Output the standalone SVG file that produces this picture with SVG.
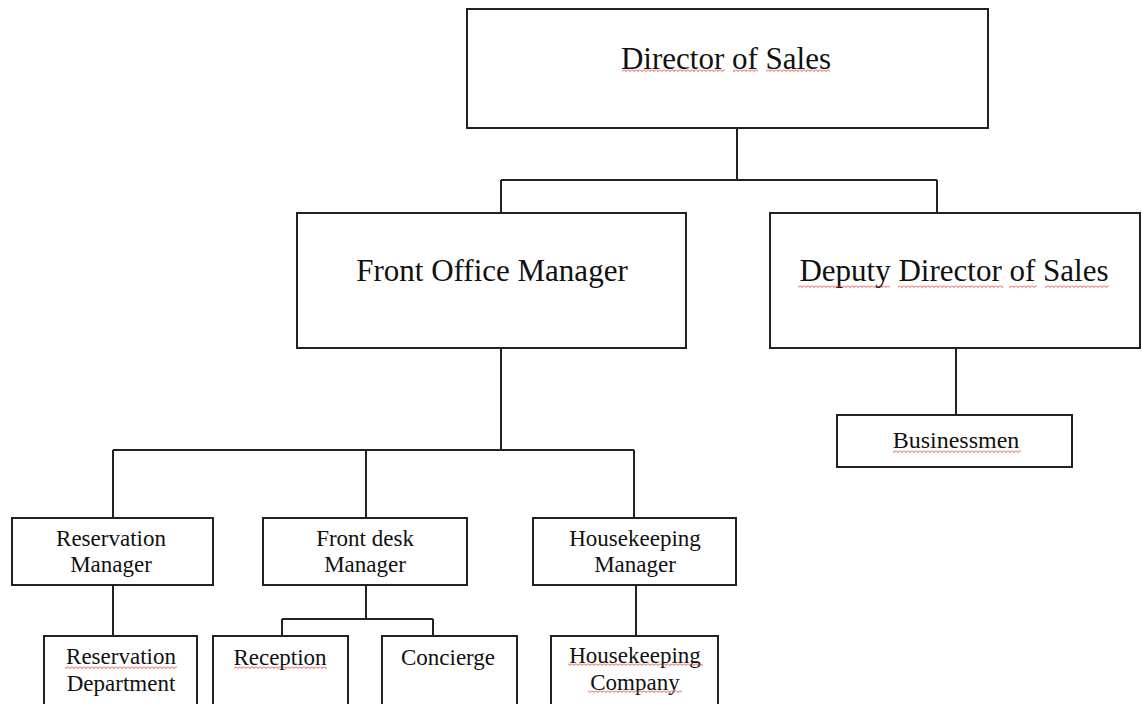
<svg xmlns="http://www.w3.org/2000/svg" width="1142" height="704" viewBox="0 0 1142 704">
<style>
.box{fill:#fff;stroke:#222;stroke-width:2}
.ln{fill:none;stroke:#222;stroke-width:2}
text{font-family:"Liberation Serif","Times New Roman",serif;fill:#111;text-anchor:middle}
.big{font-size:31px}
.sm{font-size:23px}
.sq{fill:url(#squig)}
</style>
<defs>
<pattern id="squig" x="0" y="0" width="4" height="3" patternUnits="userSpaceOnUse">
<path d="M0 0.5 L2 2.5 L4 0.5" fill="none" stroke="#e83030" stroke-width="0.9"/>
</pattern>
</defs>
<rect width="1142" height="704" fill="#fff"/>
<g id="connectors">
<path class="ln" d="M737 128 V180 M501 180 H937 M501 180 V213 M937 180 V213"/>
<path class="ln" d="M501 348 V450 M113 450 H634 M113 450 V518 M366 450 V518 M634 450 V518"/>
<path class="ln" d="M956 348 V415"/>
<path class="ln" d="M113 585 V636"/>
<path class="ln" d="M366 585 V619 M282 619 H433 M282 619 V636 M433 619 V636"/>
<path class="ln" d="M636 585 V636"/>
</g>
<g id="director">
<rect class="box" x="467" y="9" width="521" height="119"/>
<text class="big" x="726" y="69">Director of Sales</text>
<rect class="sq" x="622" y="69" width="103" height="3"/>
<rect class="sq" x="733" y="69" width="25" height="3"/>
<rect class="sq" x="766" y="69" width="64" height="3"/>
</g>
<g id="front-office">
<rect class="box" x="297" y="213" width="389" height="135"/>
<text class="big" x="492" y="281">Front Office Manager</text>
</g>
<g id="deputy">
<rect class="box" x="770" y="213" width="370" height="135"/>
<text class="big" x="954" y="281">Deputy Director of Sales</text>
<rect class="sq" x="798" y="285" width="92" height="3"/>
<rect class="sq" x="898" y="285" width="105" height="3"/>
<rect class="sq" x="1009" y="285" width="28" height="3"/>
<rect class="sq" x="1045" y="285" width="64" height="3"/>
</g>
<g id="businessmen">
<rect class="box" x="837" y="415" width="235" height="52"/>
<text class="sm" x="956" y="448" style="font-size:24px">Businessmen</text>
<rect class="sq" x="893" y="450" width="128" height="3"/>
</g>
<g id="reservation-manager">
<rect class="box" x="12" y="518" width="201" height="67"/>
<text class="sm" x="111" y="546">Reservation</text>
<text class="sm" x="111" y="572">Manager</text>
</g>
<g id="front-desk-manager">
<rect class="box" x="263" y="518" width="204" height="67"/>
<text class="sm" x="365" y="546">Front desk</text>
<text class="sm" x="365" y="572">Manager</text>
</g>
<g id="housekeeping-manager">
<rect class="box" x="533" y="518" width="203" height="67"/>
<text class="sm" x="635" y="546">Housekeeping</text>
<text class="sm" x="635" y="572">Manager</text>
</g>
<g id="reservation-department">
<rect class="box" x="44" y="636" width="153" height="72"/>
<text class="sm" x="121" y="664">Reservation</text>
<text class="sm" x="121" y="691">Department</text>
<rect class="sq" x="65" y="666" width="112" height="3"/>
</g>
<g id="reception">
<rect class="box" x="213" y="636" width="135" height="72"/>
<text class="sm" x="280" y="665">Reception</text>
<rect class="sq" x="234" y="666" width="93" height="3"/>
</g>
<g id="concierge">
<rect class="box" x="382" y="636" width="135" height="72"/>
<text class="sm" x="448" y="665">Concierge</text>
</g>
<g id="housekeeping-company">
<rect class="box" x="551" y="636" width="167" height="72"/>
<text class="sm" x="635" y="663">Housekeeping</text>
<text class="sm" x="635" y="690">Company</text>
<rect class="sq" x="568" y="663" width="135" height="3"/>
<rect class="sq" x="588" y="690" width="94" height="3"/>
</g>
</svg>
